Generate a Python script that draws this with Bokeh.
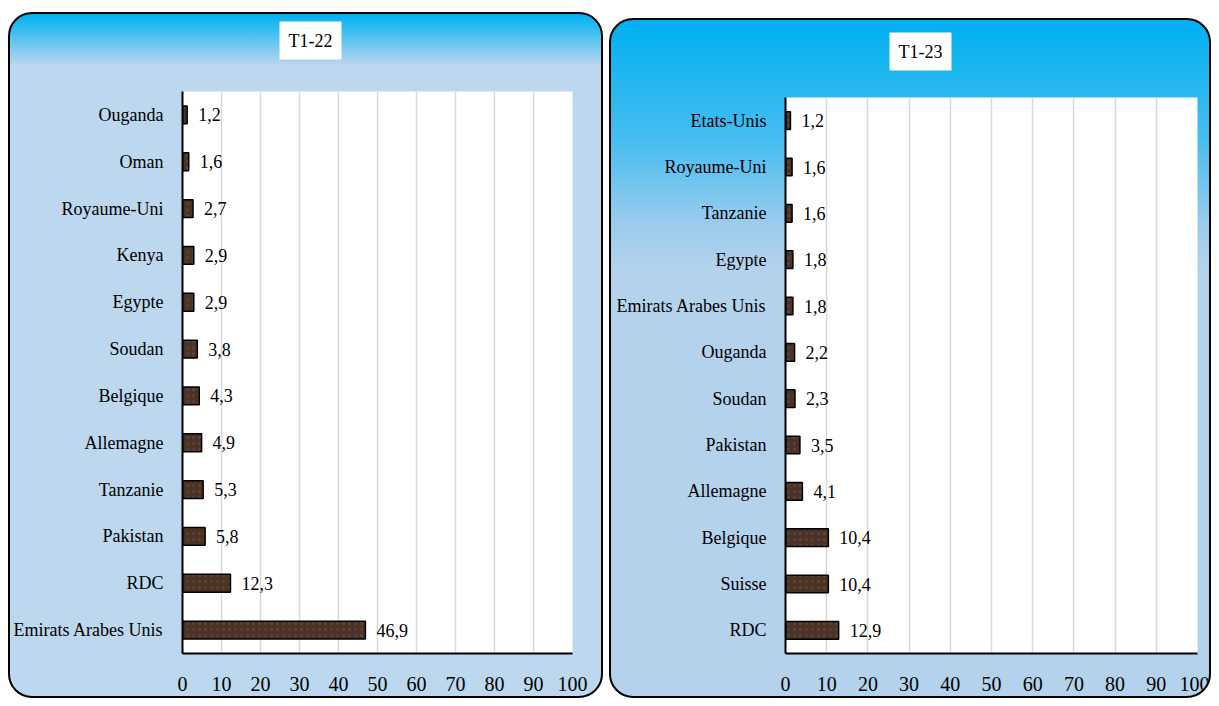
from bokeh.plotting import figure
from bokeh.layouts import row
from bokeh.models import ColumnDataSource, FactorRange, Range1d, FixedTicker, LabelSet, Title
from bokeh.core.properties import value
from bokeh.embed import file_html
from bokeh.resources import INLINE

# ---- data (top to bottom as shown) ----
title_22 = "T1-22"
countries_22 = ["Ouganda", "Oman", "Royaume-Uni", "Kenya", "Egypte", "Soudan", "Belgique",
                "Allemagne", "Tanzanie", "Pakistan", "RDC", "Emirats Arabes Unis"]
values_22 = [1.2, 1.6, 2.7, 2.9, 2.9, 3.8, 4.3, 4.9, 5.3, 5.8, 12.3, 46.9]

title_23 = "T1-23"
countries_23 = ["Etats-Unis", "Royaume-Uni", "Tanzanie", "Egypte", "Emirats Arabes Unis", "Ouganda",
                "Soudan", "Pakistan", "Allemagne", "Belgique", "Suisse", "RDC"]
values_23 = [1.2, 1.6, 1.6, 1.8, 1.8, 2.2, 2.3, 3.5, 4.1, 10.4, 10.4, 12.9]

x_ticks = [0, 10, 20, 30, 40, 50, 60, 70, 80, 90, 100]

SERIF = value("Liberation Serif")
NARROW = "Liberation Sans Narrow"


def make_panel(title, cats, vals, width, height, mb, title_offset, title_gap, bg, margin):
    src = ColumnDataSource(dict(
        cat=cats, val=vals,
        lab=[f"{v:.1f}".replace(".", ",") for v in vals]))
    p = figure(width=width, height=height, output_backend="svg", toolbar_location=None,
               y_range=FactorRange(factors=list(reversed(cats)), range_padding=0),
               x_range=Range1d(0, 100),
               min_border_left=mb[0], min_border_right=mb[1], min_border_top=mb[2],
               min_border_bottom=mb[3])
    p.margin = margin
    p.background_fill_color = "white"
    p.border_fill_alpha = 0
    p.outline_line_color = None
    p.styles = {"border": "2px solid black", "border-radius": "24px",
                "box-sizing": "content-box", "background": bg, "overflow": "hidden"}

    # spacer between the frame and the boxed title
    p.add_layout(Title(text=" ", text_font_size="1px", standoff=title_gap, padding=0), "above")
    p.add_layout(Title(text=title, align="left", offset=title_offset, standoff=0,
                       vertical_align="bottom",
                       text_font=NARROW, text_font_size="18px", text_font_style="normal",
                       text_color="black", background_fill_color="white", padding=9), "above")

    p.hbar(y="cat", right="val", left=0, height=0.38, source=src,
           fill_color="#4a3226", line_color="black", line_width=1.5,
           hatch_pattern="dot", hatch_color="#8a6e5a", hatch_alpha=0.3, hatch_scale=6)

    p.add_layout(LabelSet(x="val", y="cat", text="lab", source=src, x_offset=11,
                          text_baseline="middle", text_font=SERIF, text_font_size="18px",
                          text_color="black"))

    p.xaxis.ticker = FixedTicker(ticks=x_ticks)
    p.xaxis.major_label_text_font = NARROW
    p.xaxis.major_label_text_font_size = "20px"
    p.xaxis.major_label_text_color = "black"
    p.xaxis.major_label_standoff = 17
    p.xaxis.major_tick_line_color = None
    p.xaxis.minor_tick_line_color = None
    p.xaxis.axis_line_color = "black"
    p.xaxis.axis_line_width = 2

    p.yaxis.major_label_text_font = "Liberation Serif"
    p.yaxis.major_label_text_font_size = "18px"
    p.yaxis.major_label_text_color = "black"
    p.yaxis.major_label_standoff = 13
    p.yaxis.major_tick_line_color = None
    p.yaxis.minor_tick_line_color = None
    p.yaxis.axis_line_color = "black"
    p.yaxis.axis_line_width = 2

    p.xgrid.grid_line_color = "#d9d9d9"
    p.xgrid.grid_line_width = 1.5
    p.ygrid.grid_line_color = None
    return p


p1 = make_panel(title_22, countries_22, values_22, 591, 682, (172, 33, 71, 47), 97, 29,
                "linear-gradient(to bottom, #00b0f0 0px, #2fbcf0 14px, #6cc8ef 30px, #bdd7ee 52px, #bdd7ee 100%)",
                (12, 0, 0, 8))
p2 = make_panel(title_23, countries_23, values_23, 598, 676, (174, 16, 77, 40), 104, 24,
                "linear-gradient(to bottom, #00b0f0 0px, #46bdf0 120px, #97cbee 200px, #b4d2ec 250px, #b4d2ec 100%)",
                (18, 0, 0, 0))

layout = row(p1, p2, spacing=6)
open("out.html", "w").write(file_html(layout, INLINE))
